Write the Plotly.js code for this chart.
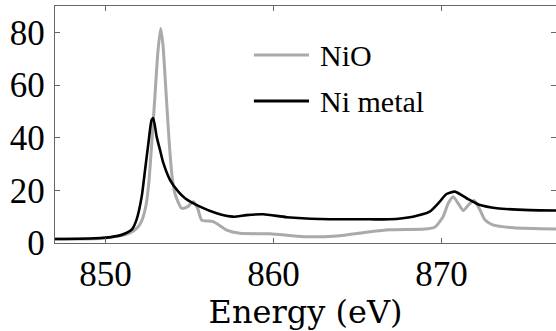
<!DOCTYPE html>
<html>
<head>
<meta charset="utf-8">
<script src="https://cdn.plot.ly/plotly-3.0.1.min.js"></script>
</head>
<body style="margin:0">
<div id="chart"></div>
<script>
// Energy (eV) and intensity for NiO (gray)
var nioEnergy = [847, 849.7, 850.87, 851.46, 851.94, 852.18, 852.42, 852.6, 852.77, 852.95, 853.13, 853.29, 853.43, 853.6, 853.79, 853.96, 854.15, 854.54, 854.9, 855.23, 855.5, 855.73, 856.42, 857.22, 858.0, 859.8, 861.8, 863.77, 865.75, 866.9, 869.0, 869.6, 870.1, 870.4, 870.7, 871.0, 871.3, 871.6, 871.94, 872.3, 872.6, 873.1, 874.3, 877];
var nioValues = [1.5, 1.7, 2.7, 3.8, 6.1, 8.7, 14.4, 23.9, 39, 56, 73, 81.5, 75, 58, 39, 25.8, 18.5, 13.2, 13.8, 15.7, 13.0, 8.7, 8.1, 4.9, 3.7, 3.5, 2.4, 2.7, 4.3, 5.0, 5.3, 6.0, 10, 15, 17.6, 15, 12.3, 14.4, 16.1, 12.5, 8.7, 6.8, 5.8, 5.3];

// Energy (eV) and intensity for Ni metal (black)
var niEnergy = [847, 849.7, 850.75, 851.17, 851.58, 851.86, 852.16, 852.36, 852.56, 852.75, 852.85, 853.05, 853.25, 853.45, 853.85, 854.34, 854.74, 855.63, 856.62, 857.6, 858.4, 859.4, 860.79, 862.77, 865.75, 866.9, 868.3, 869.3, 869.9, 870.3, 870.8, 871.5, 872.3, 873.3, 875.27, 877];
var niValues = [1.5, 1.9, 2.7, 3.6, 5.2, 9.0, 17.6, 27.7, 37.9, 46.7, 47.4, 40.4, 35.3, 30.3, 23.9, 19.5, 17, 13.8, 11.3, 10, 10.6, 10.9, 9.8, 9.1, 9, 9, 10, 11.9, 15.7, 18.6, 19.5, 17, 14.4, 13.2, 12.5, 12.3];

var seriesNames = ["NiO", "Ni metal"];
var xTicks = [850, 860, 870];
var yTicks = [0, 20, 40, 60, 80];

var frameColor = "#666666";

var traces = [
  { x: nioEnergy, y: nioValues, name: seriesNames[0], type: "scatter", mode: "lines",
    line: { color: "#aaaaaa", width: 3, shape: "spline", smoothing: 0.6 }, showlegend: false },
  { x: niEnergy, y: niValues, name: seriesNames[1], type: "scatter", mode: "lines",
    line: { color: "#000000", width: 2.6, shape: "spline", smoothing: 0.6 }, showlegend: false }
];

var layout = {
  width: 556, height: 331,
  margin: { l: 55, r: 0, t: 6, b: 88 },
  paper_bgcolor: "#ffffff", plot_bgcolor: "#ffffff",
  font: { family: "Times New Roman", size: 35, color: "#000000" },
  xaxis: {
    range: [847, 876.82], tickvals: xTicks, ticktext: xTicks.map(String),
    ticks: "inside", ticklen: 5, tickcolor: frameColor, tickwidth: 1,
    showline: true, linecolor: frameColor, linewidth: 1.3, mirror: "ticks",
    showgrid: false, zeroline: false,
    tickfont: { family: "Times New Roman", size: 35, color: "#000000" },
    title: { text: "Energy (eV)", font: { family: "DejaVu Serif", size: 32, color: "#000000" }, standoff: 0 }
  },
  yaxis: {
    range: [0, 90], tickvals: yTicks, ticktext: yTicks.map(String),
    ticks: "inside", ticklen: 5, tickcolor: frameColor, tickwidth: 1,
    showline: true, linecolor: frameColor, linewidth: 1.3, mirror: "ticks",
    showgrid: false, zeroline: false,
    tickfont: { family: "serif", size: 35, color: "#000000" },
    ticklabelstandoff: 2
  },
  showlegend: false,
  shapes: [
    { type: "line", xref: "paper", yref: "paper", x0: 0.397, x1: 0.507, y0: 0.793, y1: 0.793,
      line: { color: "#aaaaaa", width: 3 } },
    { type: "line", xref: "paper", yref: "paper", x0: 0.397, x1: 0.507, y0: 0.599, y1: 0.599,
      line: { color: "#000000", width: 3 } }
  ],
  annotations: [
    { xref: "paper", yref: "paper", x: 0.525, y: 0.793, xanchor: "left", yanchor: "middle",
      text: seriesNames[0], showarrow: false, font: { family: "Liberation Serif", size: 30, color: "#000000" } },
    { xref: "paper", yref: "paper", x: 0.525, y: 0.599, xanchor: "left", yanchor: "middle",
      text: seriesNames[1], showarrow: false, font: { family: "Liberation Serif", size: 30, color: "#000000" } }
  ]
};

Plotly.newPlot("chart", traces, layout, { staticPlot: true });
</script>
</body>
</html>
